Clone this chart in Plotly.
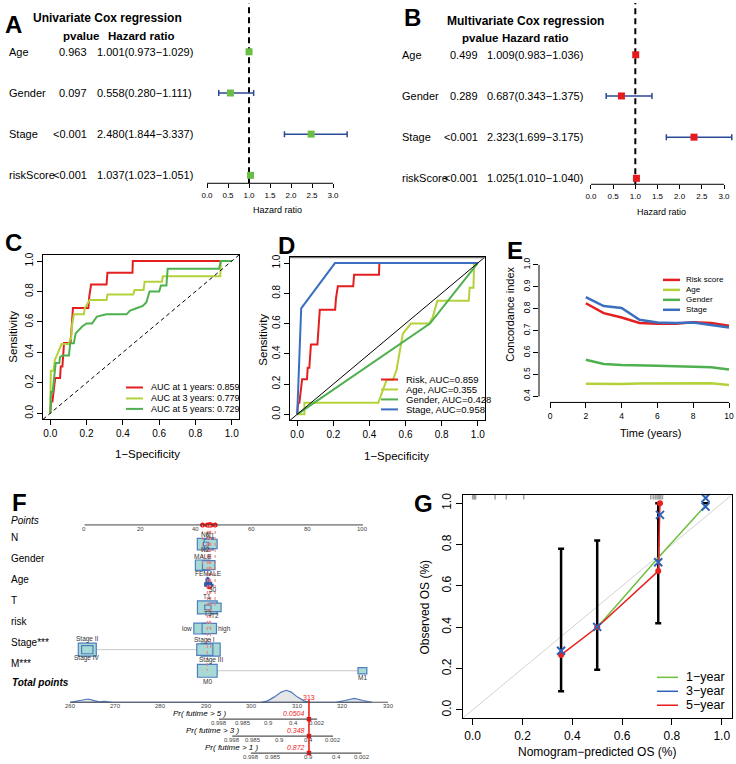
import math
import plotly.graph_objects as go

W, H = 736, 764
FONT = "Liberation Sans, Arial, Helvetica, sans-serif"

# ======================= DATA =======================
# A / B : Cox regression forest plots
cox_vars = ["Age", "Gender", "Stage", "riskScore"]
uni_pvalue = ["0.963", "0.097", "<0.001", "<0.001"]
uni_hr = [1.001, 0.558, 2.480, 1.037]
uni_low = [0.973, 0.280, 1.844, 1.023]
uni_high = [1.029, 1.111, 3.337, 1.051]
multi_pvalue = ["0.499", "0.289", "<0.001", "<0.001"]
multi_hr = [1.009, 0.687, 2.323, 1.025]
multi_low = [0.983, 0.343, 1.699, 1.010]
multi_high = [1.036, 1.375, 3.175, 1.040]
hr_ticks = [0, 0.5, 1.0, 1.5, 2.0, 2.5, 3.0]

# C : time-dependent ROC
roc_ticks = [0, 0.2, 0.4, 0.6, 0.8, 1.0]
roc_1y_fpr = [0, 0.005, 0.012, 0.02, 0.027, 0.054, 0.058, 0.067, 0.072, 0.076, 0.112, 0.115, 0.125,
              0.21, 0.215, 0.225, 0.31, 0.315, 0.453, 0.455, 1.0]
roc_1y_tpr = [0, 0.077, 0.077, 0.154, 0.231, 0.231, 0.308, 0.308, 0.385, 0.462, 0.462, 0.538, 0.692,
              0.692, 0.769, 0.846, 0.846, 0.923, 0.923, 1.0, 1.0]
roc_3y_fpr = [0, 0.003, 0.018, 0.025, 0.04, 0.054, 0.062, 0.103, 0.11, 0.115, 0.12, 0.13, 0.185, 0.19,
              0.206, 0.217, 0.31, 0.315, 0.457, 0.465, 0.514, 0.52, 0.616, 0.62, 0.937, 0.94, 1.0]
roc_3y_tpr = [0, 0.28, 0.28, 0.35, 0.39, 0.43, 0.455, 0.455, 0.49, 0.49, 0.58, 0.65, 0.65, 0.69,
              0.72, 0.745, 0.745, 0.78, 0.78, 0.81, 0.81, 0.865, 0.865, 0.9, 0.9, 1.0, 1.0]
roc_5y_fpr = [0, 0.004, 0.013, 0.018, 0.03, 0.05, 0.054, 0.067, 0.103, 0.11, 0.13, 0.14, 0.158, 0.176,
              0.2, 0.23, 0.257, 0.31, 0.42, 0.44, 0.475, 0.51, 0.53, 0.547, 0.6, 0.61, 0.64, 0.647,
              0.93, 0.94, 1.0]
roc_5y_tpr = [0, 0.14, 0.14, 0.2, 0.33, 0.33, 0.37, 0.38, 0.38, 0.46, 0.46, 0.525, 0.55, 0.57,
              0.59, 0.59, 0.635, 0.65, 0.65, 0.675, 0.69, 0.705, 0.73, 0.8, 0.8, 0.84, 0.84, 0.95,
              0.95, 1.0, 1.0]
roc_c_labels = ["AUC at 1 years: 0.859", "AUC at 3 years: 0.779", "AUC at 5 years: 0.729"]

# D : ROC of clinical factors
roc_risk_fpr = roc_1y_fpr
roc_risk_tpr = roc_1y_tpr
roc_age_fpr = [0, 0.04, 0.04, 0.449, 0.495, 0.53, 0.55, 0.585, 0.63, 0.73, 0.75, 0.776, 0.95, 0.955,
               0.976, 0.98]
roc_age_tpr = [0, 0, 0.076, 0.076, 0.228, 0.228, 0.293, 0.533, 0.6, 0.6, 0.64, 0.75, 0.75, 0.837,
               0.837, 1.0]
roc_gender_fpr = [0, 0.735, 1.0]
roc_gender_tpr = [0, 0.60, 1.0]
roc_stage_fpr = [0, 0.022, 0.209, 1.0]
roc_stage_tpr = [0, 0.70, 1.0, 1.0]
roc_d_labels = ["Risk, AUC=0.859", "Age, AUC=0.355", "Gender, AUC=0.428", "Stage, AUC=0.958"]

# E : concordance index over time
cindex_time = [2, 3, 4, 5, 6, 7, 8, 9, 10]
cindex_risk = [0.825, 0.780, 0.760, 0.735, 0.732, 0.732, 0.738, 0.735, 0.722]
cindex_age = [0.458, 0.457, 0.457, 0.459, 0.460, 0.460, 0.460, 0.460, 0.452]
cindex_gender = [0.567, 0.548, 0.543, 0.543, 0.540, 0.538, 0.535, 0.533, 0.523]
cindex_stage = [0.853, 0.812, 0.803, 0.750, 0.737, 0.735, 0.737, 0.727, 0.714]
cindex_labels = ["Risk score", "Age", "Gender", "Stage"]
cindex_xticks = [0, 2, 4, 6, 8, 10]
cindex_yticks = [0.4, 0.5, 0.6, 0.7, 0.8, 0.9, 1.0]

# F : nomogram
nomo_rows = ["N", "Gender", "Age", "T", "risk", "Stage***", "M***"]
nomo_points_ticks = [0, 20, 40, 60, 80, 100]
nomo_cat_row = [0, 0, 0, 1, 1, 3, 3, 3, 4, 4, 5, 5, 5, 5, 6, 6]
nomo_cat_label = ["N0", "N1", "N2", "MALE", "FEMALE", "T1", "T2", "T3", "low", "high",
                  "Stage I", "Stage II", "Stage III", "Stage IV", "M0", "M1"]
nomo_cat_points = [43.4, 45.3, 43.6, 42.4, 44.6, 44.1, 46.9, 44.3, 42.0, 44.8,
                   43.2, 1.0, 45.3, 1.0, 44.1, 99.8]
nomo_cat_count = [20, 13, 2, 16, 12, 30, 11, 3, 18, 16, 20, 25, 28, 10, 30, 6]
nomo_cat_labelpos = ["above", "above", "below", "above", "below", "above", "below", "below",
                     "left", "right", "above", "above", "below", "below", "below", "below"]
nomo_age_points = [43.3, 43.8, 44.2, 44.6, 45.0, 45.5, 46.0]
nomo_age_density = [0.45, 0.85, 1.0, 0.9, 0.7, 0.5, 0.3]
nomo_age_label = ["30"]
nomo_age_label_points = [46.3]
nomo_patient_points = [45.3, 42.4, 44.8, 46.9, 44.8, 45.3, 44.1]
nomo_total_ticks = [260, 270, 280, 290, 300, 310, 320, 330]
nomo_density_x = [260, 261.5, 263, 264, 265.5, 266.5, 267.5, 268.5, 269.5, 302, 303.5, 305, 306.5,
                  307.6, 308.7, 310, 311.5, 313, 318.5, 320.5, 322.6, 324.5, 326.5]
nomo_density_h = [0, 0.12, 0.25, 0.27, 0.12, 0.03, 0.08, 0.03, 0, 0, 0.12, 0.45, 0.85,
                  1.0, 0.85, 0.45, 0.12, 0, 0, 0.15, 0.33, 0.15, 0]
nomo_total_score = 312.6
nomo_prob_titles = ["Pr( futime > 5 )", "Pr( futime > 3 )", "Pr( futime > 1 )"]
nomo_prob_ticklabels = ["0.998", "0.985", "0.9", "0.4", "0.002"]
nomo_prob5_pos = [292.8, 298.1, 303.6, 309.1, 314.4]
nomo_prob3_pos = [295.7, 300.3, 306.2, 312.4, 317.9]
nomo_prob1_pos = [299.8, 304.7, 312.4, 318.7, 324.2]
nomo_prob_values = ["0.0504", "0.348", "0.872"]

# G : calibration
cal_ticks = [0, 0.2, 0.4, 0.6, 0.8, 1.0]
cal_rug = [0.0, 0.004, 0.008, 0.012, 0.09, 0.135, 0.205, 0.715, 0.725, 0.733, 0.74, 0.745,
           0.75, 0.755, 0.762, 0.932, 0.94]
cal_errbar_x = [0.355, 0.5, 0.745, 0.935]
cal_errbar_low = [0.09, 0.195, 0.42, 1.0]
cal_errbar_high = [0.78, 0.82, 1.0, 1.0]
cal_1y_pred = [0.515, 0.745, 0.935]
cal_1y_obs = [0.42, 0.737, 0.99]
cal_3y_pred = [0.355, 0.5, 0.745, 0.752, 0.935, 0.935]
cal_3y_obs = [0.286, 0.402, 0.715, 0.944, 1.025, 0.984]
cal_5y_pred = [0.355, 0.5, 0.745, 0.752]
cal_5y_obs = [0.266, 0.40, 0.672, 1.0]
cal_labels = ["1\u2212year", "3\u2212year", "5\u2212year"]

# ======================= STYLE =======================
RED = "#e41f1f"
YGREEN = "#b3d23a"
GREEN = "#4fb04f"
BLUE = "#3a6fc0"
NAVY = "#2b4a96"
SQ_GREEN = "#6abd45"
SQ_RED = "#e41a1c"
G_GREEN = "#6cbf3f"
G_BLUE = "#2c62b8"
G_RED = "#e8201f"
BOX_FILL = "#a9d9d4"
BOX_LINE = "#4d7fbf"

traces, shapes, annotations = [], [], []
layout = dict(width=W, height=H, margin=dict(l=0, r=0, t=0, b=0),
              paper_bgcolor="white", plot_bgcolor="white", showlegend=False,
              font=dict(family=FONT, color="black"))


def X(p):
    return p / W


def Y(p):
    return 1 - p / H


def pann(x, y, text, size, xanchor="center", color="black", angle=0):
    annotations.append(dict(x=X(x), y=Y(y), xref="paper", yref="paper", text=text,
                            showarrow=False, xanchor=xanchor, yanchor="middle",
                            textangle=angle, borderpad=0,
                            font=dict(size=size, color=color)))


def aann(x, y, xref, yref, text, size, xanchor="center", color="black"):
    annotations.append(dict(x=x, y=y, xref=xref, yref=yref, text=text, showarrow=False,
                            xanchor=xanchor, yanchor="middle", borderpad=0,
                            font=dict(size=size, color=color)))


def seg(x0, y0, x1, y1, xref, yref, color, width, dash=None, layer="above"):
    ln = dict(color=color, width=width)
    if dash:
        ln["dash"] = dash
    shapes.append(dict(type="line", x0=x0, y0=y0, x1=x1, y1=y1, xref=xref, yref=yref,
                       line=ln, layer=layer))


def legend(x0, x1, xt, ys, colors, labels, size, lw):
    for yy, c, t in zip(ys, colors, labels):
        seg(X(x0), Y(yy), X(x1), Y(yy), "paper", "paper", c, lw)
        pann(xt, yy, t, size, xanchor="left")


def box_axis(domain, rng, tickvals, fmt, anchor, size, angle=0, ticklen=5, **kw):
    d = dict(domain=domain, range=rng, anchor=anchor, showline=True, mirror=True,
             linecolor="black", linewidth=1, ticks="outside", ticklen=ticklen, tickwidth=1,
             tickcolor="black", tickvals=tickvals, tickformat=fmt, tickfont=dict(size=size),
             showgrid=False, zeroline=False, tickangle=angle)
    d.update(kw)
    return d


# ======================= A & B : forest plots =======================
def forest(xa, ya, xdom, xrng, ydom, yrng, hr, lo, hi, pvals, sq_color,
           x_label, x_p, x_hr, title, title_xy, hdr_y, hdr_p_x, hdr_hr_x, axtitle_xy):
    layout["xaxis" + xa[1:]] = dict(domain=[X(xdom[0]), X(xdom[1])], range=xrng,
                                     anchor=ya, tickvals=hr_ticks, tickformat=".1f",
                                     ticks="outside", ticklen=4, tickwidth=1, tickcolor="black",
                                     showline=False, showgrid=False, zeroline=False,
                                     tickfont=dict(size=8))
    layout["yaxis" + ya[1:]] = dict(domain=[Y(ydom[1]), Y(ydom[0])], range=yrng,
                                     visible=False)
    rows = list(range(len(cox_vars)))
    traces.append(go.Scatter(
        x=hr, y=rows, mode="markers", xaxis=xa, yaxis=ya, cliponaxis=False,
        marker=dict(symbol="square", size=7, color=sq_color),
        error_x=dict(type="data", symmetric=False,
                     array=[h - m for h, m in zip(hi, hr)],
                     arrayminus=[m - l for m, l in zip(hr, lo)],
                     color=NAVY, thickness=1.5, width=3)))
    seg(hr_ticks[0], 0, hr_ticks[-1], 0, xa, ya + " domain", "black", 1)
    seg(1, 0, 1, 1, xa, ya + " domain", "black", 2, dash="6px,4px", layer="below")
    for i, v in enumerate(cox_vars):
        annotations.append(dict(x=X(x_label), y=i, xref="paper", yref=ya, text=v,
                                showarrow=False, xanchor="left", yanchor="middle",
                                borderpad=0, font=dict(size=11)))
        annotations.append(dict(x=X(x_p), y=i, xref="paper", yref=ya, text=pvals[i],
                                showarrow=False, xanchor="right", yanchor="middle",
                                borderpad=0, font=dict(size=11)))
        txt = "%.3f(%.3f\u2212%.3f)" % (hr[i], lo[i], hi[i])
        annotations.append(dict(x=X(x_hr), y=i, xref="paper", yref=ya, text=txt,
                                showarrow=False, xanchor="left", yanchor="middle",
                                borderpad=0, font=dict(size=11)))
    pann(title_xy[0], title_xy[1], "<b>%s</b>" % title, 12)
    pann(hdr_p_x, hdr_y, "<b>pvalue</b>", 11.5)
    pann(hdr_hr_x, hdr_y, "<b>Hazard ratio</b>", 11.5)
    pann(axtitle_xy[0], axtitle_xy[1], "Hazard ratio", 9)


forest("x", "y", (198.6, 354), [-0.2, 3.5], (0, 181), [3.194, -1.186],
       uni_hr, uni_low, uni_high, uni_pvalue, SQ_GREEN,
       8, 88, 96, "Univariate Cox regression", (107, 15), 33, 81, 141, (277, 208))
forest("x2", "y2", (582.1, 735.1), [-0.2, 3.25], (0, 182), [3.145, -1.258],
       multi_hr, multi_low, multi_high, multi_pvalue, SQ_RED,
       401, 479, 486, "Multivariate Cox regression", (525.5, 18), 35, 480, 535, (661, 210))

# ======================= C : time ROC =======================
layout["xaxis3"] = box_axis([X(43), X(239)], [-0.04, 1.04], roc_ticks, ".1f", "y3", 10)
layout["yaxis3"] = box_axis([Y(418), Y(253)], [-0.04, 1.04], roc_ticks, ".1f", "x3", 10, angle=-90)
seg(-0.04, -0.04, 1.04, 1.04, "x3", "y3", "black", 1, dash="4px,3px")
for fx, ty, c in [(roc_1y_fpr, roc_1y_tpr, RED), (roc_3y_fpr, roc_3y_tpr, YGREEN),
                  (roc_5y_fpr, roc_5y_tpr, GREEN)]:
    traces.append(go.Scatter(x=fx, y=ty, mode="lines", xaxis="x3", yaxis="y3",
                             line=dict(color=c, width=2)))
pann(147, 453, "1\u2212Specificity", 11.5)
pann(13, 335, "Sensitivity", 11.5, angle=-90)
legend(126, 143, 150, [386, 397, 407.5], [RED, YGREEN, GREEN], roc_c_labels, 9, 2)

# ======================= D : ROC clinical =======================
layout["xaxis4"] = box_axis([X(290), X(485)], [-0.04, 1.04], roc_ticks, ".1f", "y4", 10)
layout["yaxis4"] = box_axis([Y(419), Y(255)], [-0.04, 1.04], roc_ticks, ".1f", "x4", 10, angle=-90)
seg(-0.04, -0.04, 1.04, 1.04, "x4", "y4", "black", 1)
seg(-0.04, 1.04, 1.04, 1.04, "x4", "y4", "#777777", 2.5)
for fx, ty, c in [(roc_risk_fpr, roc_risk_tpr, RED), (roc_age_fpr, roc_age_tpr, YGREEN),
                  (roc_gender_fpr, roc_gender_tpr, GREEN), (roc_stage_fpr, roc_stage_tpr, BLUE)]:
    traces.append(go.Scatter(x=fx, y=ty, mode="lines", xaxis="x4", yaxis="y4",
                             line=dict(color=c, width=2)))
pann(396.5, 455, "1\u2212Specificity", 11.5)
pann(263, 338, "Sensitivity", 11.5, angle=-90)
legend(381, 398, 405, [378, 388, 398, 408], [RED, YGREEN, GREEN, BLUE], roc_d_labels, 9.5, 2)

# ======================= E : C-index =======================
layout["xaxis5"] = dict(domain=[X(539), X(736)], range=[-0.615, 10.39], anchor="y5",
                        showline=False, showgrid=False, zeroline=False, ticks="outside",
                        ticklen=5, tickcolor="black", tickvals=cindex_xticks,
                        tickfont=dict(size=8.5))
layout["yaxis5"] = dict(domain=[Y(401), Y(257.7)], range=[0.3727, 1.0236], anchor="x5",
                        showline=False, showgrid=False, zeroline=False, ticks="outside",
                        ticklen=5, tickcolor="black", tickvals=cindex_yticks, tickformat=".1f",
                        tickangle=-90, tickfont=dict(size=8.5))
seg(cindex_xticks[0], 0, cindex_xticks[-1], 0, "x5", "y5 domain", "black", 1)
seg(0, cindex_yticks[0], 0, cindex_yticks[-1], "x5 domain", "y5", "black", 1)
for vals, c in [(cindex_risk, RED), (cindex_age, YGREEN), (cindex_gender, GREEN),
                (cindex_stage, BLUE)]:
    traces.append(go.Scatter(x=cindex_time, y=vals, mode="lines", xaxis="x5", yaxis="y5",
                             line=dict(color=c, width=2.5)))
pann(650, 432, "Time (years)", 11)
pann(510, 313, "Concordance index", 11, angle=-90)
legend(663, 680, 685, [278, 288, 298, 308], [RED, YGREEN, GREEN, BLUE], cindex_labels, 8, 2.5)

# ======================= F : nomogram =======================
PX_PER_PT = 2.785
PX_PER_ROW = 21.2
layout["xaxis6"] = dict(domain=[0, X(400)], range=[-30.34, 113.29], anchor="y6", visible=False)
layout["xaxis7"] = dict(overlaying="x6", range=[244.59, 332.64], anchor="y6", visible=False)
layout["yaxis6"] = dict(domain=[0, Y(480)], range=[11.415, -1.981], anchor="x6", visible=False)
K_PTS = 0.094
K_TOT = 8.491
K_PROB = [9.292, 10.094, 10.896]

# points axis
seg(nomo_points_ticks[0], K_PTS, nomo_points_ticks[-1], K_PTS, "x6", "y6", "#444444", 1)
for t in nomo_points_ticks:
    aann(t, K_PTS + 0.2, "x6", "y6", str(t), 6, color="#444444")
pann(10, 520, "<i>Points</i>", 10, xanchor="left")

# row labels
for r, name in enumerate(nomo_rows):
    aann(X(10), r + 1 - 0.33, "paper", "y6", name, 10, xanchor="left")

# connecting lines of categorical rows
for r in range(len(nomo_rows)):
    pts = [p for p, rr in zip(nomo_cat_points, nomo_cat_row) if rr == r]
    if len(pts) > 1:
        seg(min(pts), r + 1, max(pts), r + 1, "x6", "y6", "#c8c8c8", 1, layer="below")

# age spikes
age_row = nomo_rows.index("Age") + 1
for p, d in zip(nomo_age_points, nomo_age_density):
    seg(p, age_row + 0.02, p, age_row + 0.02 - 0.47 * d, "x6", "y6", "#3156a8", 2)
for lab, p in zip(nomo_age_label, nomo_age_label_points):
    aann(p, age_row + 0.17, "x6", "y6", lab, 6.5, color="#333333")

# category boxes (largest first)
order = sorted(range(len(nomo_cat_label)), key=lambda i: -nomo_cat_count[i])
cx, cy = [], []
for i in order:
    k = nomo_cat_row[i] + 1
    p = nomo_cat_points[i]
    wpx = 3.6 * math.sqrt(nomo_cat_count[i])
    hpx = min(0.72 * wpx, 13)
    dx = wpx / 2 / PX_PER_PT
    dy = hpx / 2 / PX_PER_ROW
    shapes.append(dict(type="rect", xref="x6", yref="y6", x0=p - dx, x1=p + dx,
                       y0=k - dy, y1=k + dy, fillcolor=BOX_FILL,
                       line=dict(color=BOX_LINE, width=1.2)))
    cx.append(p)
    cy.append(k)
    pos = nomo_cat_labelpos[i]
    lab = nomo_cat_label[i]
    if pos == "above":
        aann(p, k - dy - 4 / PX_PER_ROW, "x6", "y6", lab, 6.5, color="#333333")
    elif pos == "below":
        aann(p, k + dy + 4 / PX_PER_ROW, "x6", "y6", lab, 6.5, color="#333333")
    elif pos == "left":
        aann(p - dx - 1 / PX_PER_PT, k, "x6", "y6", lab, 6.5, xanchor="right", color="#333333")
    else:
        aann(p + dx + 1 / PX_PER_PT, k, "x6", "y6", lab, 6.5, xanchor="left", color="#333333")
traces.append(go.Scatter(x=cx, y=cy, mode="markers", xaxis="x6", yaxis="y6",
                         marker=dict(size=2.5, color="black")))

# patient (red) points
rows_k = list(range(1, len(nomo_rows) + 1))
for p, k in zip(nomo_patient_points, rows_k):
    seg(p, K_PTS, p, k, "x6", "y6", "#f07a7a", 1, dash="dot")
traces.append(go.Scatter(x=nomo_patient_points, y=rows_k, mode="markers", xaxis="x6",
                         yaxis="y6", marker=dict(size=6, color="#ee1111")))
traces.append(go.Scatter(x=nomo_patient_points, y=[K_PTS] * len(nomo_patient_points),
                         mode="markers", xaxis="x6", yaxis="y6",
                         marker=dict(size=5, color="#ee1111")))

# total points density + axis
DENS_SCALE = 12 / PX_PER_ROW
dx_poly = nomo_density_x + [nomo_density_x[-1], nomo_density_x[0]]
dy_poly = [K_TOT - h * DENS_SCALE for h in nomo_density_h] + [K_TOT, K_TOT]
traces.append(go.Scatter(x=dx_poly, y=dy_poly, mode="lines", fill="toself",
                         fillcolor="#e6e6e6", xaxis="x7", yaxis="y6",
                         line=dict(color="#4f79bf", width=1.2)))
seg(nomo_total_ticks[0], K_TOT, nomo_total_ticks[-1], K_TOT, "x7", "y6", "#555555", 1)
for t in nomo_total_ticks:
    aann(t, K_TOT + 0.16, "x7", "y6", str(t), 6, color="#444444")
pann(11, 682, "<b><i>Total points</i></b>", 10, xanchor="left")

# probability axes
for kp, pos, title, val in zip(K_PROB, [nomo_prob5_pos, nomo_prob3_pos, nomo_prob1_pos],
                               nomo_prob_titles, nomo_prob_values):
    seg(pos[0], kp, pos[-1], kp, "x7", "y6", "#555555", 1.3)
    for lab, p in zip(nomo_prob_ticklabels, pos):
        aann(p, kp + 0.17, "x7", "y6", lab, 6, color="#444444")
    aann(pos[0] + 8 / 4.543, kp - 0.25, "x7", "y6", "<i>%s</i>" % title, 8, xanchor="right")
    aann(nomo_total_score - 0.6, kp - 0.25, "x7", "y6", "<i>%s</i>" % val, 7,
         xanchor="right", color="#ee2222")

seg(nomo_total_score, K_TOT - 0.12, nomo_total_score, K_PROB[-1], "x7", "y6", "#ee1111", 1.5)
traces.append(go.Scatter(x=[nomo_total_score] * 3, y=K_PROB, mode="markers", xaxis="x7",
                         yaxis="y6", marker=dict(size=4.5, color="#ee1111", symbol="square")))
aann(nomo_total_score, K_TOT - 0.22, "x7", "y6", "%d" % round(nomo_total_score), 7,
     color="#ee2222")

# ======================= G : calibration =======================
layout["xaxis8"] = box_axis([X(462.7), X(731.7)], [-0.04, 1.04], cal_ticks, ".1f", "y8", 12,
                            ticklen=6)
layout["yaxis8"] = box_axis([Y(718), Y(494)], [-0.04, 1.04], cal_ticks, ".1f", "x8", 12,
                            angle=-90, ticklen=6)
seg(-0.04, -0.04, 1.04, 1.04, "x8", "y8", "#d2d2d2", 1, layer="below")
rx, ry = [], []
for v in cal_rug:
    rx += [v, v, None]
    ry += [1.04, 1.018, None]
traces.append(go.Scatter(x=rx, y=ry, mode="lines", xaxis="x8", yaxis="y8",
                         line=dict(color="#a0a0a0", width=1.5)))
traces.append(go.Scatter(
    x=cal_errbar_x, y=cal_errbar_low, mode="markers", xaxis="x8", yaxis="y8",
    marker=dict(size=1, color="rgba(0,0,0,0)"),
    error_y=dict(type="data", symmetric=False,
                 array=[h - l for h, l in zip(cal_errbar_high, cal_errbar_low)],
                 arrayminus=[0] * len(cal_errbar_low), color="black", thickness=2.5, width=3)))
traces.append(go.Scatter(x=cal_1y_pred, y=cal_1y_obs, mode="lines", xaxis="x8", yaxis="y8",
                         line=dict(color=G_GREEN, width=1.5)))
traces.append(go.Scatter(x=cal_5y_pred, y=cal_5y_obs, mode="lines+markers", xaxis="x8",
                         yaxis="y8", line=dict(color=G_RED, width=1.5),
                         marker=dict(size=6, color=G_RED)))
traces.append(go.Scatter(x=cal_3y_pred, y=cal_3y_obs, mode="markers", xaxis="x8", yaxis="y8",
                         cliponaxis=False,
                         marker=dict(symbol="x-thin", size=8,
                                     line=dict(width=2, color=G_BLUE), color=G_BLUE)))
pann(597, 752, "Nomogram\u2212predicted OS (%)", 12)
pann(425, 607, "Observed OS (%)", 12, angle=-90)
legend(657, 678, 685, [677, 691, 705], [G_GREEN, G_BLUE, G_RED], cal_labels, 12.5, 1.5)

# ======================= panel letters =======================
for letter, (lx, ly) in zip("ABCDEFG", [(13.8, 22), (412, 15), (13.3, 240.7), (286.7, 243.3),
                                       (515, 248.5), (19, 501), (423.5, 502.5)]):
    pann(lx, ly, "<b>%s</b>" % letter, 24)

layout["shapes"] = shapes
layout["annotations"] = annotations
fig = go.Figure(data=traces, layout=layout)
fig.write_html("out.html", config={"displayModeBar": False},
               post_script="document.body.style.margin='0';"
                           "document.body.style.padding='0';"
                           "document.body.style.overflow='hidden';")
